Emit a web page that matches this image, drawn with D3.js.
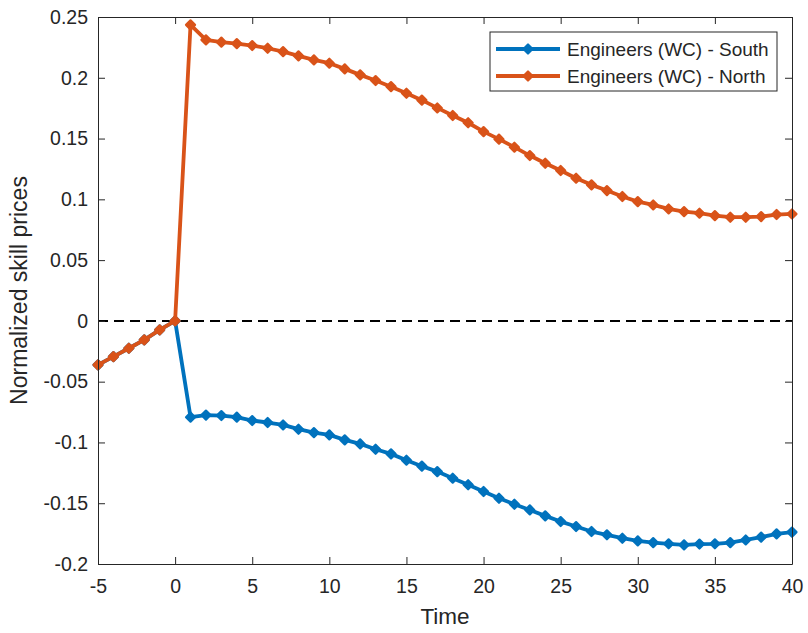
<!DOCTYPE html>
<html>
<head>
<meta charset="utf-8">
<script src="https://cdn.jsdelivr.net/npm/d3@7"></script>
<style>
  body { margin: 0; background: #fff; }
  svg text { font-family: "Liberation Sans", Arial, sans-serif; fill: #262626; }
</style>
</head>
<body>
<svg id="chart" width="808" height="633"></svg>
<script>
// Time periods
const time = d3.range(-5, 41);

// Series values
const preShock = [-0.0362, -0.0294, -0.0225, -0.0156, -0.0074, 0];

const southValues = preShock.concat([
    -0.0792, -0.0775, -0.0779, -0.0792, -0.0820, -0.0836, -0.0856, -0.0891, -0.0919, -0.0938,
    -0.0979, -0.1012, -0.1056, -0.1094, -0.1146, -0.1195, -0.1240, -0.1294, -0.1348, -0.1404,
    -0.1459, -0.1508, -0.1555, -0.1604, -0.1651, -0.1692, -0.1733, -0.1760, -0.1788, -0.1810,
    -0.1824, -0.1834, -0.1843, -0.1836, -0.1834, -0.1824, -0.1802, -0.1779, -0.1752, -0.1738
]);

const northValues = preShock.concat([
    0.2435, 0.2312, 0.2293, 0.2281, 0.2265, 0.2243, 0.2215, 0.2180, 0.2147, 0.2120,
    0.2073, 0.2024, 0.1977, 0.1927, 0.1873, 0.1816, 0.1752, 0.1690, 0.1630, 0.1557,
    0.1495, 0.1429, 0.1360, 0.1297, 0.1237, 0.1174, 0.1119, 0.1072, 0.1023, 0.0981,
    0.0954, 0.0921, 0.0899, 0.0886, 0.0866, 0.0853, 0.0853, 0.0858, 0.0875, 0.0880
]);

const seriesNames = ['Engineers (WC) - South', 'Engineers (WC) - North'];
const seriesColors = ['#0072BD', '#D95319'];

const xTicks = [-5, 0, 5, 10, 15, 20, 25, 30, 35, 40];
const yTicks = [-0.2, -0.15, -0.1, -0.05, 0, 0.05, 0.1, 0.15, 0.2, 0.25];

const MARGIN = { left: 98, right: 16, top: 17, bottom: 69 };
const WIDTH = 808, HEIGHT = 633;

const svg = d3.select('#chart');

const scaleX = d3.scaleLinear()
    .domain([-5, 40])
    .range([MARGIN.left, WIDTH - MARGIN.right]);

const scaleY = d3.scaleLinear()
    .domain([-0.2, 0.25])
    .range([HEIGHT - MARGIN.bottom, MARGIN.top]);

const axisColor = '#262626';
const tickLen = 7;

// zero line
svg.append('line')
    .attr('x1', scaleX(-5)).attr('x2', scaleX(40))
    .attr('y1', scaleY(0)).attr('y2', scaleY(0))
    .attr('stroke', '#000')
    .attr('stroke-width', 2)
    .attr('stroke-dasharray', '10,6');

// lines and markers
const series = [southValues, northValues];
const line = d3.line()
    .x((d, i) => scaleX(time[i]))
    .y(d => scaleY(d));
const diamond = d3.symbol().type(d3.symbolDiamond2).size(52);

series.forEach((vals, k) => {
    const g = svg.append('g');
    g.append('path')
        .datum(vals)
        .attr('d', line)
        .attr('fill', 'none')
        .attr('stroke', seriesColors[k])
        .attr('stroke-width', 3.8)
        .attr('stroke-linejoin', 'round');
    g.selectAll('path.marker')
        .data(vals)
        .join('path')
        .attr('class', 'marker')
        .attr('d', diamond)
        .attr('transform', (d, i) => `translate(${scaleX(time[i])},${scaleY(d)})`)
        .attr('fill', seriesColors[k])
        .attr('stroke', seriesColors[k])
        .attr('stroke-width', 2.2)
        .attr('stroke-linejoin', 'round');
});

// axes (MATLAB style box, inward ticks)
const fmt = d => String(+(+d).toFixed(2));
const xAxisBottom = d3.axisBottom(scaleX).tickValues(xTicks).tickSizeInner(-tickLen).tickSizeOuter(0)
    .tickPadding(15).tickFormat(fmt);
const xAxisTop = d3.axisTop(scaleX).tickValues(xTicks).tickSizeInner(-tickLen).tickSizeOuter(0).tickFormat('');
const yAxisLeft = d3.axisLeft(scaleY).tickValues(yTicks).tickSizeInner(-tickLen).tickSizeOuter(0)
    .tickPadding(10).tickFormat(fmt);
const yAxisRight = d3.axisRight(scaleY).tickValues(yTicks).tickSizeInner(-tickLen).tickSizeOuter(0).tickFormat('');

function styleAxis(sel) {
    sel.selectAll('path.domain').attr('stroke', axisColor).attr('stroke-width', 1);
    sel.selectAll('.tick line').attr('stroke', axisColor).attr('stroke-width', 1);
    sel.selectAll('.tick text').style('font-size', '19.5px').attr('fill', axisColor);
    sel.attr('font-family', null);
}

svg.append('g').attr('transform', `translate(0,${HEIGHT - MARGIN.bottom})`).call(xAxisBottom).call(styleAxis);
svg.append('g').attr('transform', `translate(0,${MARGIN.top})`).call(xAxisTop).call(styleAxis);
svg.append('g').attr('transform', `translate(${MARGIN.left},0)`).call(yAxisLeft).call(styleAxis);
svg.append('g').attr('transform', `translate(${WIDTH - MARGIN.right},0)`).call(yAxisRight).call(styleAxis);

// axis labels
svg.append('text')
    .attr('x', (scaleX(-5) + scaleX(40)) / 2)
    .attr('y', 624)
    .attr('text-anchor', 'middle')
    .style('font-size', '22.5px')
    .text('Time');

svg.append('text')
    .attr('transform', `translate(27,${(scaleY(-0.2) + scaleY(0.25)) / 2}) rotate(-90)`)
    .attr('text-anchor', 'middle')
    .style('font-size', '23px')
    .text('Normalized skill prices');

// legend
const legend = svg.append('g').attr('transform', 'translate(490,32)');
legend.append('rect')
    .attr('width', 287).attr('height', 59)
    .attr('fill', '#fff')
    .attr('stroke', axisColor)
    .attr('stroke-width', 1);

seriesNames.forEach((name, k) => {
    const y = 17 + k * 27;
    legend.append('line')
        .attr('x1', 6).attr('x2', 70)
        .attr('y1', y).attr('y2', y)
        .attr('stroke', seriesColors[k])
        .attr('stroke-width', 3.8);
    legend.append('path')
        .attr('d', diamond)
        .attr('transform', `translate(38,${y})`)
        .attr('fill', seriesColors[k])
        .attr('stroke', seriesColors[k])
        .attr('stroke-width', 2.2)
        .attr('stroke-linejoin', 'round');
    legend.append('text')
        .attr('x', 77).attr('y', y + 7)
        .style('font-size', '19px')
        .attr('fill', '#000')
        .text(name);
});
</script>
</body>
</html>
